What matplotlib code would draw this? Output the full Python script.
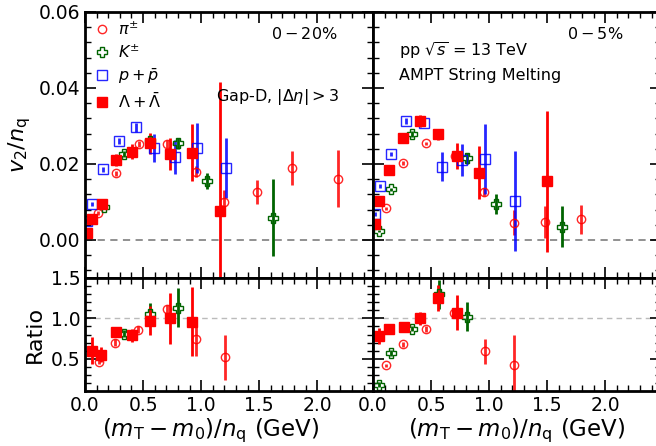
import matplotlib
matplotlib.use('Agg')
import matplotlib.pyplot as plt
from matplotlib.ticker import MultipleLocator, FormatStrFormatter
from matplotlib.lines import Line2D

# ---- top panels: v2/nq vs (mT-m0)/nq ----
# Gap-D, 0-20% (left)
pi_x_L = [0.116, 0.267, 0.464, 0.71, 0.957, 1.20, 1.484, 1.78, 2.18]
pi_y_L = [0.0072, 0.0175, 0.0252, 0.0252, 0.018, 0.0101, 0.0127, 0.019, 0.0161]
pi_e_L = [0.0005, 0.0006, 0.0008, 0.001, 0.0015, 0.003, 0.0032, 0.0044, 0.0075]
k_x_L = [0.16, 0.333, 0.556, 0.80, 1.052, 1.617]
k_y_L = [0.0087, 0.0227, 0.026, 0.0254, 0.0155, 0.0059]
k_e_L = [0.0005, 0.0008, 0.001, 0.0015, 0.002, 0.0102]
p_x_L = [0.015, 0.058, 0.154, 0.29, 0.435, 0.594, 0.774, 0.962, 1.217]
p_y_L = [0.005, 0.0095, 0.0186, 0.026, 0.0297, 0.0243, 0.0218, 0.0243, 0.019]
p_e_L = [0.0005, 0.0005, 0.0006, 0.0008, 0.0012, 0.0037, 0.0045, 0.0066, 0.0079]
la_x_L = [0.015, 0.058, 0.145, 0.267, 0.406, 0.556, 0.73, 0.919, 1.16]
la_y_L = [0.0018, 0.0054, 0.0096, 0.021, 0.0232, 0.0254, 0.0227, 0.023, 0.0077]
la_e_L = [0.0008, 0.0008, 0.001, 0.0015, 0.002, 0.0028, 0.0042, 0.0076, 0.034]

# AMPT string melting, 0-5% (right)
pi_x_R = [0.111, 0.259, 0.46, 0.707, 0.958, 1.21, 1.479, 1.79]
pi_y_R = [0.0083, 0.0202, 0.0254, 0.0221, 0.0127, 0.0046, 0.0048, 0.0054]
pi_e_R = [0.0004, 0.0005, 0.0005, 0.0008, 0.001, 0.0033, 0.0042, 0.0037]
k_x_R = [0.052, 0.157, 0.332, 0.81, 1.057, 1.624]
k_y_R = [0.0024, 0.0133, 0.0278, 0.0215, 0.0094, 0.0035]
k_e_R = [0.0003, 0.0005, 0.0008, 0.0015, 0.0026, 0.0054]
p_x_R = [0.017, 0.061, 0.155, 0.286, 0.44, 0.594, 0.766, 0.964, 1.22]
p_y_R = [0.0069, 0.0142, 0.0226, 0.0313, 0.0309, 0.0193, 0.021, 0.0212, 0.0103]
p_e_R = [0.0005, 0.0005, 0.0006, 0.0008, 0.001, 0.0038, 0.0042, 0.0092, 0.0132]
la_x_R = [0.017, 0.052, 0.134, 0.259, 0.405, 0.556, 0.722, 0.914, 1.502]
la_y_R = [0.0041, 0.0103, 0.0184, 0.0268, 0.0313, 0.0278, 0.0221, 0.0177, 0.0154]
la_e_R = [0.0005, 0.0005, 0.0006, 0.0008, 0.0015, 0.0015, 0.0033, 0.007, 0.0185]

# ---- ratio panels ----
rpi_x_L = [0.122, 0.26, 0.458, 0.71, 0.957, 1.209]
rpi_y_L = [0.46, 0.70, 0.86, 1.11, 0.74, 0.52]
rpi_e_L = [0.03, 0.04, 0.04, 0.06, 0.21, 0.28]
rk_x_L = [0.333, 0.556, 0.80]
rk_y_L = [0.81, 1.06, 1.13]
rk_e_L = [0.04, 0.13, 0.24]
rla_x_L = [0.058, 0.137, 0.267, 0.406, 0.556, 0.73, 0.919]
rla_y_L = [0.6, 0.55, 0.83, 0.79, 0.97, 1.0, 0.96]
rla_e_L = [0.17, 0.09, 0.06, 0.08, 0.18, 0.32, 0.43]

rpi_x_R = [0.111, 0.259, 0.46, 0.70, 0.963, 1.21]
rpi_y_R = [0.42, 0.68, 0.87, 1.07, 0.59, 0.42]
rpi_e_R = [0.02, 0.03, 0.04, 0.05, 0.15, 0.37]
rk_x_R = [0.052, 0.157, 0.332, 0.565, 0.812]
rk_y_R = [0.18, 0.57, 0.87, 1.3, 1.02]
rk_e_R = [0.03, 0.04, 0.03, 0.18, 0.18]
rla_x_R = [0.052, 0.14, 0.265, 0.405, 0.556, 0.722]
rla_y_R = [0.78, 0.87, 0.89, 1.0, 1.25, 1.07]
rla_e_R = [0.1, 0.05, 0.04, 0.08, 0.16, 0.22]

labels = [r'$\pi^{\pm}$', r'$K^{\pm}$', r'$p+\bar{p}$', r'$\Lambda+\bar{\Lambda}$']

RED = '#ff0000'
GREEN = '#006400'
BLUE = '#0000ff'

sty_pi = dict(fmt='o', color=RED, mfc='none', mec=RED, ms=6, mew=1.0, alpha=0.85)
sty_k = dict(fmt='P', color=GREEN, mfc='none', mec=GREEN, ms=7, mew=1.0)
sty_p = dict(fmt='s', color=BLUE, mfc='none', mec=BLUE, ms=6.5, mew=1.0, alpha=0.85)
sty_la = dict(fmt='s', color=RED, mfc=RED, mec=RED, ms=7)

fig = plt.figure(figsize=(6.56, 4.46), dpi=100)
x0L, x0R, w = 85 / 656, 373 / 656, 288 / 656
ax_tl = fig.add_axes([x0L, 0.3767, w, 0.5964])
ax_tr = fig.add_axes([x0R, 0.3767, w, 0.5964])
ax_bl = fig.add_axes([x0L, 0.1233, w, 0.2534])
ax_br = fig.add_axes([x0R, 0.1233, w, 0.2534])


def style(ax):
    ax.set_xlim(0, 2.48)
    ax.xaxis.set_major_locator(MultipleLocator(0.5))
    ax.xaxis.set_minor_locator(MultipleLocator(0.1))
    ax.tick_params(which='both', direction='in', top=True, right=True, labelsize=13.5)
    ax.tick_params(which='major', length=8, width=1.2)
    ax.tick_params(which='minor', length=4, width=1.0)
    for s in ax.spines.values():
        s.set_linewidth(2)


for ax in (ax_tl, ax_tr):
    style(ax)
    ax.set_ylim(-0.01, 0.06)
    ax.yaxis.set_major_locator(MultipleLocator(0.02))
    ax.yaxis.set_minor_locator(MultipleLocator(0.004))
    ax.axhline(0, color='#888888', ls='--', lw=1.3, dashes=(4, 3), zorder=0)
    ax.tick_params(labelbottom=False)

for ax in (ax_bl, ax_br):
    style(ax)
    ax.set_ylim(0.1, 1.5)
    ax.yaxis.set_major_locator(MultipleLocator(0.5))
    ax.yaxis.set_minor_locator(MultipleLocator(0.1))
    ax.plot([0, 2.4], [1, 1], color='#bbbbbb', ls='--', lw=1.0, dashes=(4, 3), zorder=0)
    ax.set_xlabel(r'$(m_{\rm T}-m_0)/n_{\rm q}$ (GeV)', fontsize=16.5, labelpad=1.5)
ax_bl.xaxis.label.set_x(0.435)

ax_tr.tick_params(labelleft=False)
ax_br.tick_params(labelleft=False)
ax_tl.yaxis.set_major_formatter(FormatStrFormatter('%.2f'))
ax_bl.yaxis.set_major_formatter(FormatStrFormatter('%.1f'))

# top left
ax_tl.errorbar(pi_x_L, pi_y_L, yerr=pi_e_L, elinewidth=2, **sty_pi)
ax_tl.errorbar(k_x_L, k_y_L, yerr=k_e_L, elinewidth=2, **sty_k)
ax_tl.errorbar(p_x_L, p_y_L, yerr=p_e_L, elinewidth=2, **sty_p)
ax_tl.errorbar(la_x_L, la_y_L, yerr=la_e_L, elinewidth=2, **sty_la)
# top right
ax_tr.errorbar(pi_x_R, pi_y_R, yerr=pi_e_R, elinewidth=2, **sty_pi)
ax_tr.errorbar(k_x_R, k_y_R, yerr=k_e_R, elinewidth=2, **sty_k)
ax_tr.errorbar(p_x_R, p_y_R, yerr=p_e_R, elinewidth=2, **sty_p)
ax_tr.errorbar(la_x_R, la_y_R, yerr=la_e_R, elinewidth=2, **sty_la)
# ratios
ax_bl.errorbar(rpi_x_L, rpi_y_L, yerr=rpi_e_L, elinewidth=2, **sty_pi)
ax_bl.errorbar(rk_x_L, rk_y_L, yerr=rk_e_L, elinewidth=2, **sty_k)
ax_bl.errorbar(rla_x_L, rla_y_L, yerr=rla_e_L, elinewidth=2, **sty_la)
ax_br.errorbar(rpi_x_R, rpi_y_R, yerr=rpi_e_R, elinewidth=2, **sty_pi)
ax_br.errorbar(rk_x_R, rk_y_R, yerr=rk_e_R, elinewidth=2, **sty_k)
ax_br.errorbar(rla_x_R, rla_y_R, yerr=rla_e_R, elinewidth=2, **sty_la)

handles = []
for s in (sty_pi, sty_k, sty_p, sty_la):
    handles.append(Line2D([], [], ls='none', marker=s['fmt'], mfc=s['mfc'], mec=s['mec'],
                          ms=s['ms'], mew=s.get('mew', 1.0), alpha=s.get('alpha', 1.0)))
ax_tl.legend(handles, labels, loc='upper left', frameon=False, fontsize=11.5, handletextpad=0.5,
             labelspacing=0.35, borderaxespad=0.15, handlelength=1.0)

ax_tl.set_ylabel(r'$v_2/n_{\rm q}$', fontsize=16)
ax_bl.set_ylabel('Ratio', fontsize=16)
fig.align_ylabels([ax_tl, ax_bl])

ax_tl.text(0.76, 0.90, r'$0-20\%$', transform=ax_tl.transAxes, fontsize=11.5, ha='center')
ax_tl.text(0.455, 0.665, r'Gap-D, $|\Delta\eta|>3$', transform=ax_tl.transAxes, fontsize=11.5)
ax_tr.text(0.09, 0.835, r'pp $\sqrt{s}$ = 13 TeV', transform=ax_tr.transAxes, fontsize=11.5)
ax_tr.text(0.09, 0.745, 'AMPT String Melting', transform=ax_tr.transAxes, fontsize=11.5)
ax_tr.text(0.77, 0.90, r'$0-5\%$', transform=ax_tr.transAxes, fontsize=11.5, ha='center')

fig.savefig('out.png', dpi=100)
